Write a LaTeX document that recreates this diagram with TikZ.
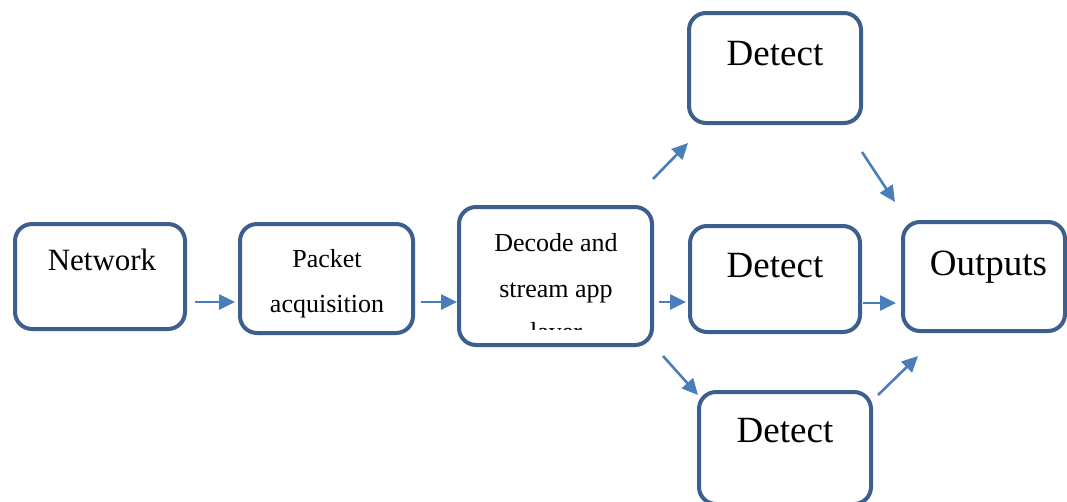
\documentclass[tikz,border=0pt]{standalone}
\usepackage{fontspec}
\setmainfont{Liberation Serif}
\usetikzlibrary{arrows.meta}

\definecolor{boxblue}{HTML}{3C5F8D}
\definecolor{arrowblue}{HTML}{4A7EBB}

\tikzset{
    stage/.style={rectangle, draw=boxblue, line width=4pt, rounded corners=17pt,
        inner sep=0pt, outer sep=0pt, fill=white},
    flow/.style={draw=arrowblue, line width=2.6pt,
        -{Triangle[length=16pt, width=15pt]}},
    lbl/.style={anchor=base, inner sep=0pt, align=center},
}

\begin{document}
\begin{tikzpicture}[x=1pt, y=-1pt]
    \def\big{\fontsize{37}{44}\selectfont};
    \def\mid{\fontsize{31}{36}\selectfont};
    \def\small{\fontsize{26}{46}\selectfont};

    \useasboundingbox (0,0) rectangle (1067,501);

% boxes
    \node[stage, minimum width=170pt, minimum height=105pt] (net) at (100,276.5) {};
    \node[stage, minimum width=173pt, minimum height=109pt] (pkt) at (326.5,278.5) {};
    \node[stage, minimum width=193pt, minimum height=138pt] (dec) at (555.5,276) {};
    \node[stage, minimum width=172pt, minimum height=110pt] (detA) at (775,68) {};
    \node[stage, minimum width=170pt, minimum height=106pt] (detB) at (775,279) {};
    \node[stage, minimum width=172pt, minimum height=112pt] (detC) at (785,448) {};
    \node[stage, minimum width=162pt, minimum height=109pt] (out) at (984,276.5) {};

% texts
    \node[lbl, font=\mid] (netT) at (102,270) {Network};
    \node[lbl, font=\small] (pktT) at (327,267) {Packet};
    \node[lbl, font=\small] (pktB) at (327,312) {acquisition};
    \node[lbl, font=\small] (decT) at (556,251) {Decode and};
    \node[lbl, font=\small] (decM) at (556,297) {stream app};
    \begin{scope}
        \clip (462,300) rectangle (650,329);
        \node[lbl, font=\small] (decB) at (556,340.5) {layer};
    \end{scope}
    \node[lbl, font=\big] (detAT) at (775,65) {Detect};
    \node[lbl, font=\big] (detBT) at (775,277) {Detect};
    \node[lbl, font=\big] (detCT) at (785,442) {Detect};
    \node[lbl, font=\big] (outT) at (988.5,275) {Outputs};

% arrow ends
    \coordinate (netR) at (195,302);
    \coordinate (pktL) at (235,302);
    \coordinate (pktR) at (421,302);
    \coordinate (decL) at (457,302);
    \coordinate (decR) at (659,302);
    \coordinate (detBL) at (686,302);
    \coordinate (detBR) at (863,303);
    \coordinate (outL) at (896,303);
    \coordinate (decU) at (653,179);
    \coordinate (detAL) at (688,143);
    \coordinate (detAR) at (862,152);
    \coordinate (outU) at (895,202);
    \coordinate (decD) at (663,356);
    \coordinate (detCL) at (698,395);
    \coordinate (detCR) at (878,395);
    \coordinate (outD) at (918,356);

% arrows
    \draw[flow] (netR) -- (pktL);
    \draw[flow] (pktR) -- (decL);
    \draw[flow] (decR) -- (detBL);
    \draw[flow] (detBR) -- (outL);
    \draw[flow] (decU) -- (detAL);
    \draw[flow] (detAR) -- (outU);
    \draw[flow] (decD) -- (detCL);
    \draw[flow] (detCR) -- (outD);

\end{tikzpicture}
\end{document}
